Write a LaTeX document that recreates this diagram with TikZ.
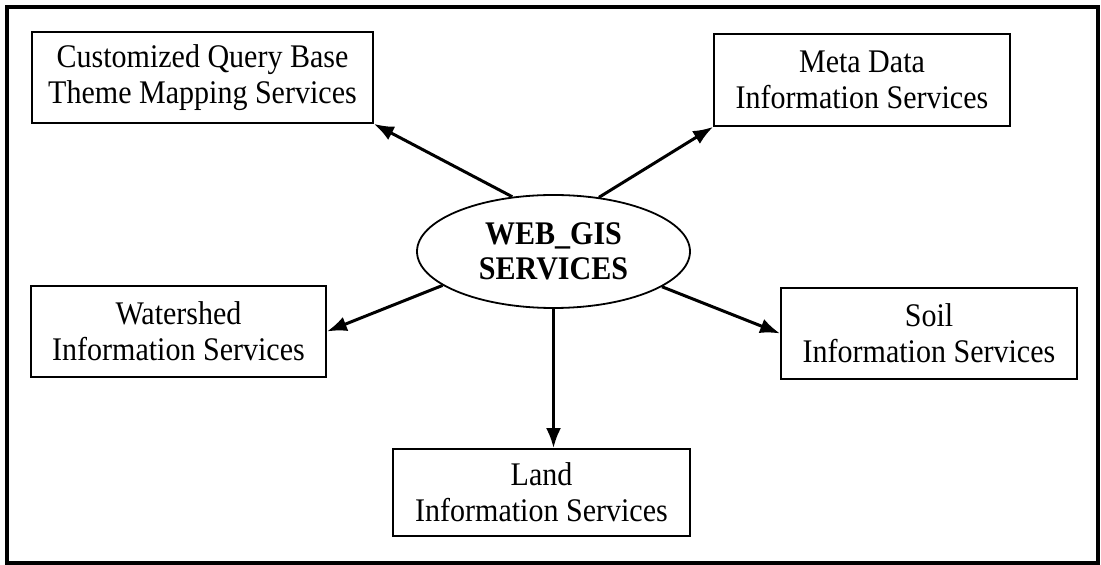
\documentclass[tikz,border=0pt]{standalone}
\usepackage{fontspec}
\setmainfont{Liberation Serif}[FakeStretch=0.91]
\usetikzlibrary{shapes.geometric,arrows.meta}
\begin{document}
\begin{tikzpicture}[x=1pt,y=1pt,
  svcbox/.style={draw, line width=1.8pt, rectangle, inner sep=0pt, align=center,
    font=\fontsize{33}{36}\selectfont},
  hub/.style={draw, ellipse, line width=1.8pt, inner sep=0pt, align=center,
    minimum width=273pt, minimum height=113pt,
    font=\fontsize{33}{35}\selectfont\bfseries},
  link/.style={line width=3pt, -{Latex[length=20pt,width=15pt]}}]

  \useasboundingbox (0,0) rectangle (1101,565);
  % outer frame
  \draw[line width=3.5pt] (7,2) rectangle (1098,558);

  % central service node
  \node[hub] (ell) at (553.5,313.5) {WEB\_GIS\\SERVICES};

  % service boxes
  \node[svcbox, minimum width=341pt, minimum height=91pt] (cq) at (202.5,487.5)
    {Customized Query Base\\Theme Mapping Services};
  \node[svcbox, minimum width=296pt, minimum height=92pt] (md) at (862,485)
    {Meta Data\\Information Services};
  \node[svcbox, minimum width=295pt, minimum height=91pt] (ws) at (178.5,233.5)
    {Watershed\\Information Services};
  \node[svcbox, minimum width=296pt, minimum height=91pt] (soil) at (929,231.5)
    {Soil\\Information Services};
  \node[svcbox, minimum width=297pt, minimum height=87pt] (land) at (541.5,72.5)
    {Land\\Information Services};

  % connectors
  \draw[link] (ell.127.6) -- (cq.south east);
  \draw[link] (ell.50.5) -- (md.south west);
  \draw[link] (ell.197.4) -- (ws.east);
  \draw[link] (ell.342.6) -- (soil.west);
  \draw[link] (ell.south) -- (ell.south |- land.north);
\end{tikzpicture}
\end{document}
